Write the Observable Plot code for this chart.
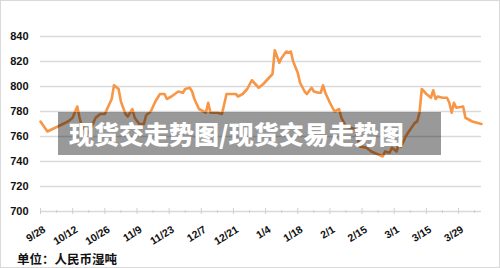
<!DOCTYPE html>
<html>
<head>
<meta charset="utf-8">
<script src="https://cdn.jsdelivr.net/npm/d3@7"></script>
<script src="https://cdn.jsdelivr.net/npm/@observablehq/plot@0.6"></script>
<style>
  html, body { margin: 0; padding: 0; background: #fff; }
  #wrap { position: relative; width: 500px; height: 268px; box-sizing: border-box; overflow: hidden; }
  #border { position: absolute; left: 0; top: 0; width: 500px; height: 268px; box-sizing: border-box; border: 1px solid #d9d9d9; pointer-events: none; }
  #overlay { position: absolute; left: 58px; top: 112px; width: 383px; height: 43px; background: rgba(0,0,0,0.4);
    color: #fff; font-family: "Noto Sans CJK SC", sans-serif; font-weight: 900; font-size: 25px; line-height: 42px;
    padding-left: 11px; box-sizing: border-box; white-space: nowrap; }
  #caption { position: absolute; left: 17px; top: 249px; font-family: "Noto Sans CJK SC", sans-serif; font-weight: 700;
    font-size: 12.5px; color: #111; white-space: nowrap; }
</style>
</head>
<body>
<div id="wrap">
  <div id="chart"></div>
  <div id="overlay">现货交走势图/现货交易走势图</div>
  <div id="caption">单位：人民币湿吨</div>
  <div id="border"></div>
</div>
<script>
// Data
const dates = [
  "2020-09-28","2020-10-01","2020-10-10","2020-10-12","2020-10-14","2020-10-15","2020-10-16","2020-10-19",
  "2020-10-20","2020-10-22","2020-10-24","2020-10-26","2020-10-28","2020-10-29","2020-10-30","2020-11-01",
  "2020-11-02","2020-11-04","2020-11-05","2020-11-07","2020-11-08","2020-11-10","2020-11-12","2020-11-13",
  "2020-11-15","2020-11-17","2020-11-19","2020-11-21","2020-11-22","2020-11-24","2020-11-27","2020-11-29",
  "2020-11-30","2020-12-02","2020-12-03","2020-12-04","2020-12-06","2020-12-08","2020-12-09","2020-12-10",
  "2020-12-11","2020-12-14","2020-12-16","2020-12-18","2020-12-20","2020-12-22","2020-12-23","2020-12-25",
  "2020-12-27","2020-12-29","2020-12-31","2021-01-01","2021-01-03","2021-01-05","2021-01-07","2021-01-08",
  "2021-01-10","2021-01-11","2021-01-13","2021-01-14","2021-01-15","2021-01-16","2021-01-18","2021-01-19",
  "2021-01-21","2021-01-22","2021-01-24","2021-01-25","2021-01-27","2021-01-28","2021-01-29","2021-01-30",
  "2021-02-01","2021-02-03","2021-02-05","2021-02-06","2021-02-08","2021-02-12","2021-02-14","2021-02-17",
  "2021-02-19","2021-02-24","2021-02-25","2021-02-27","2021-02-28","2021-03-02","2021-03-03","2021-03-04",
  "2021-03-06","2021-03-07","2021-03-10","2021-03-11","2021-03-12","2021-03-13","2021-03-15","2021-03-17",
  "2021-03-18","2021-03-19","2021-03-20","2021-03-22","2021-03-24","2021-03-25","2021-03-26","2021-03-27",
  "2021-03-28","2021-03-31","2021-04-01","2021-04-04","2021-04-08"
];
const prices = [
  772,764,772,775,784,775,768,763,
  767,775,778,778,786,790,801,798,
  788,778,776,782,775,770,770,777,
  780,788,794,794,790,792,796,795,
  798,799,796,790,782,780,779,787,
  779,779,778,794,794,794,792,794,
  798,805,801,799,802,806,810,829,
  819,823,828,827,828,820,811,803,
  796,794,799,796,795,795,801,795,
  787,780,782,775,768,766,752,751,
  748,744,748,747,751,748,754,752,
  760,763,771,772,779,798,794,791,
  797,790,792,791,791,787,779,787,
  783,784,775,772,770
];
const yTicks = [700, 720, 740, 760, 780, 800, 820, 840];
const majorTickDates = ["2020-09-28","2020-10-12","2020-10-26","2020-11-09","2020-11-23","2020-12-07","2020-12-21",
  "2021-01-04","2021-01-18","2021-02-01","2021-02-15","2021-03-01","2021-03-15","2021-03-29"];
const minorTickDates = ["2020-10-05","2020-10-19","2020-11-02","2020-11-16","2020-11-30","2020-12-14","2020-12-28",
  "2021-01-11","2021-01-25","2021-02-08","2021-02-22","2021-03-08","2021-03-22","2021-04-05"];
const xDomain = ["2020-09-28", "2021-04-08"];

const parse = d3.utcParse("%Y-%m-%d");
const data = dates.map((d, i) => ({date: parse(d), price: prices[i]}));
const major = majorTickDates.map(parse);
const minor = minorTickDates.map(parse);
const fmt = d3.utcFormat("%-m/%-d");

const chart = Plot.plot({
  width: 500,
  height: 268,
  marginLeft: 40,
  marginRight: 19,
  marginTop: 36,
  marginBottom: 57,
  style: {fontFamily: "'Liberation Sans', Arial, sans-serif", background: "transparent", color: "#111"},
  x: {type: "utc", domain: xDomain.map(parse)},
  y: {domain: [700, 840]},
  marks: [
    Plot.ruleY(yTicks, {stroke: "#d9d9d9", strokeWidth: 1.3}),
    Plot.axisY({ticks: yTicks, tickSize: 0, tickPadding: 12, fontSize: 11, fontWeight: "bold", label: null}),
    Plot.axisX({ticks: major, tickSize: 6, dy: -3, stroke: "#d0d0d0", tickFormat: () => "", label: null}),
    Plot.axisX({ticks: minor, tickSize: 3, dy: -1, stroke: "#d0d0d0", tickFormat: () => "", label: null}),
    Plot.axisX({ticks: major, tickSize: 0, tickPadding: 17, dx: 4, tickRotate: -32, tickFormat: fmt,
      fontSize: 10.5, fontWeight: "bold", label: null}),
    Plot.lineY(data, {x: "date", y: "price", stroke: "#f79646", strokeWidth: 2.6, strokeLinejoin: "round"})
  ]
});
document.getElementById("chart").appendChild(chart);
</script>
</body>
</html>
